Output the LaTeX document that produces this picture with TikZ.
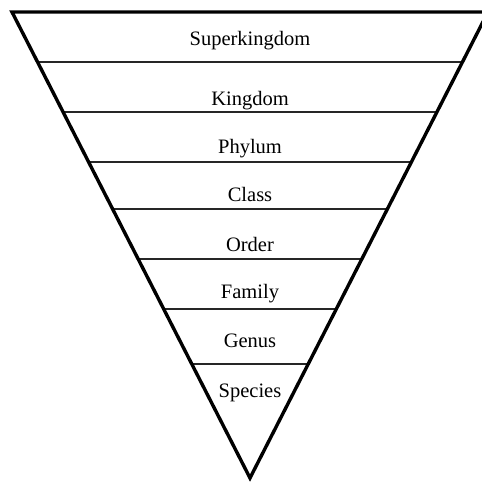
\documentclass[tikz,border=0pt]{standalone}
\usepackage{fontspec}
\setmainfont{Liberation Serif}
\usetikzlibrary{calc}
\begin{document}
\begin{tikzpicture}[x=1pt,y=-1pt,
  edge/.style={line width=3.4pt, line join=miter},
  rung/.style={line width=1.4pt, draw=black!85},
  lbl/.style={anchor=base, inner sep=0pt, font=\fontsize{20.5}{24}\selectfont}]
\useasboundingbox (0,0) rectangle (482,482);
\clip (0,0) rectangle (482,482);
\coordinate (L) at (12,12);
\coordinate (R) at (488,12);
\coordinate (A) at (250,478);
\foreach \yy in {62,112,162,209,259,309,364} {
  \pgfmathsetmacro\tt{(\yy-12)/466}
  \draw[rung] ($(L)!\tt!(A)$) -- ($(R)!\tt!(A)$);
}
\draw[edge] (L) -- (R) -- (A) -- cycle;
\node[lbl] (superkingdom) at (250,45) {Superkingdom};
\node[lbl] (kingdom) at (250,105) {Kingdom};
\node[lbl] (phylum) at (250,153) {Phylum};
\node[lbl] (class) at (250,201) {Class};
\node[lbl] (order) at (250,251) {Order};
\node[lbl] (family) at (250,298) {Family};
\node[lbl] (genus) at (250,347) {Genus};
\node[lbl] (species) at (250,397) {Species};
\end{tikzpicture}
\end{document}
